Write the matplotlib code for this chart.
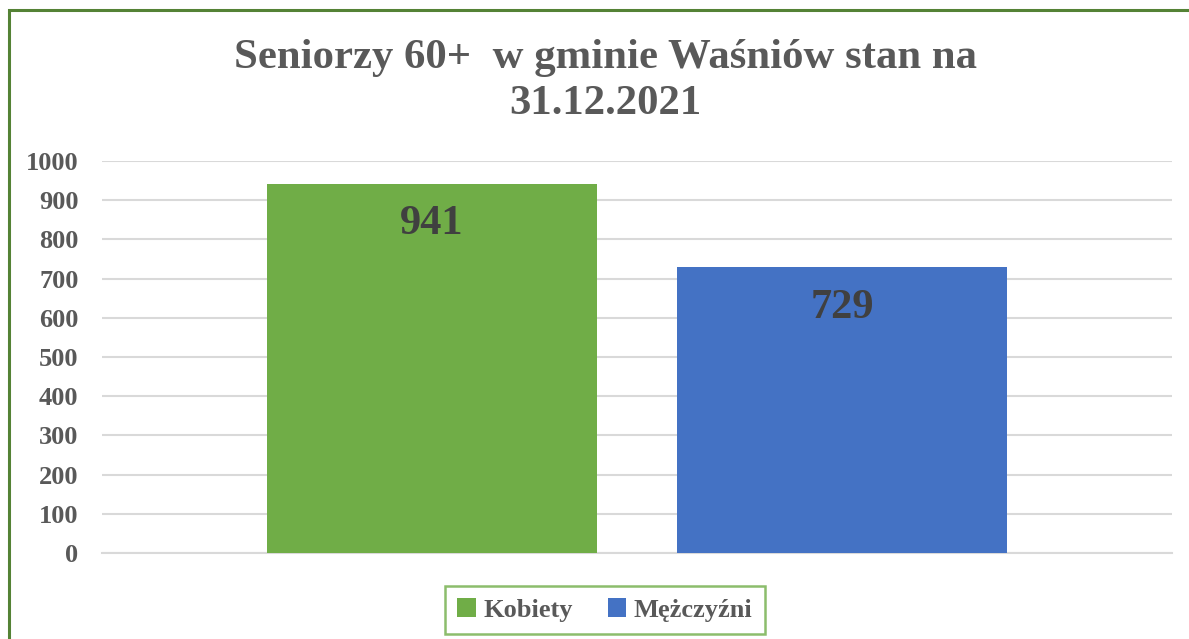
import matplotlib
matplotlib.use("Agg")
import matplotlib.pyplot as plt
from matplotlib.patches import Rectangle
import numpy as np

# data
series = ["Kobiety", "Mężczyźni"]
values = [941, 729]
colors = ["#70AD47", "#4472C4"]
yticks = [0, 100, 200, 300, 400, 500, 600, 700, 800, 900, 1000]
title = "Seniorzy 60+  w gminie Waśniów stan na\n31.12.2021"

plt.rcParams['font.family'] = ['Liberation Serif', 'DejaVu Serif']
plt.rcParams['font.weight'] = 'bold'

fig = plt.figure(figsize=(11.89, 6.39), dpi=100)
ax = fig.add_axes([102/1189, 1 - 553/639, (1172 - 102)/1189, (553 - 161)/639])

x = np.arange(len(series))
bars = ax.bar(x, values, width=0.807, color=colors, label=series, zorder=3)

for b, v in zip(bars, values):
    ax.annotate(str(v), (b.get_x() + b.get_width()/2, v), xytext=(0, -29),
                textcoords="offset points", ha="center", va="center",
                fontsize=30.5, fontweight="bold", color="#404040", zorder=4)

ax.set_xlim(-0.805, 1.805)
ax.set_ylim(0, 1000)
ax.set_yticks(yticks)
ax.set_yticklabels([str(t) for t in yticks], fontsize=19, fontweight="bold", color="#595959")
ax.set_xticks([])
ax.tick_params(axis="y", length=0, pad=17)
ax.yaxis.grid(True, color="#D9D9D9", linewidth=1.5, zorder=0)
for s in ["top", "right", "left"]:
    ax.spines[s].set_visible(False)
ax.spines["bottom"].set_color("#D9D9D9")
ax.spines["bottom"].set_linewidth(1.5)

fig.text(605/1189, 1 - 81/639, title, ha="center", va="center", fontsize=30.8,
         fontweight="bold", color="#595959", linespacing=1.25)

leg = fig.legend(handles=bars, labels=series, loc="center", bbox_to_anchor=(605/1189, 1 - 610/639),
                 ncol=2, fontsize=19, frameon=True, fancybox=False, handlelength=0.7,
                 handleheight=0.7, handletextpad=0.3, columnspacing=1.3, borderpad=0.45,
                 borderaxespad=0)
leg.get_frame().set_edgecolor("#70AD47")
leg.get_frame().set_linewidth(1.8)
for t in leg.get_texts():
    t.set_color("#595959")

# outer border of the chart box (cut off at right and bottom)
fig.patches.append(Rectangle((8.5/1189, -0.1), 1.2, 1 - 10/639 + 0.1, transform=fig.transFigure,
                             fill=False, edgecolor="#548235", linewidth=2.2))

fig.savefig("out.png", dpi=100)
